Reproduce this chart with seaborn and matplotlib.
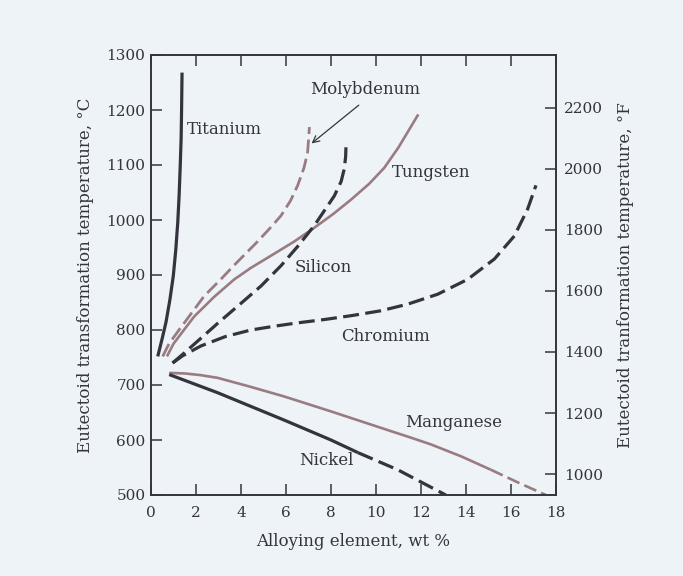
import matplotlib
matplotlib.use("Agg")
import matplotlib.pyplot as plt
import seaborn as sns
import pandas as pd

# ---------------- data ----------------
titanium_x = [0.30, 0.50, 0.67, 0.84, 0.99, 1.10, 1.19, 1.25, 1.30, 1.34, 1.36, 1.38]
titanium_y = [752, 785, 815, 855, 898, 945, 996, 1045, 1099, 1150, 1203, 1268]

molybdenum_x = [0.52, 0.80, 1.26, 1.48, 2.37, 3.10, 3.70, 4.74, 5.33, 5.78, 6.20,
                6.52, 6.80, 6.96, 7.00, 7.04]
molybdenum_y = [752, 775, 801, 813, 862, 892, 918, 961, 987, 1008, 1035,
                1063, 1095, 1123, 1145, 1169]

tungsten_x = [0.71, 1.00, 1.48, 1.93, 2.80, 3.70, 4.44, 5.33, 6.37, 7.26, 8.10,
              8.89, 9.70, 10.37, 11.00, 11.88]
tungsten_y = [752, 775, 801, 825, 860, 892, 913, 935, 961, 986, 1011,
              1037, 1066, 1095, 1132, 1192]

silicon_x = [0.96, 1.50, 2.52, 2.96, 3.90, 4.89, 5.78, 6.52, 7.26, 8.15, 8.45,
             8.59, 8.65, 8.67]
silicon_y = [740, 759, 796, 812, 845, 880, 917, 952, 990, 1044, 1070,
             1093, 1115, 1139]

chromium_x = [0.96, 1.40, 2.22, 3.30, 4.44, 5.50, 6.52, 7.70, 8.89, 10.22, 11.41,
              12.74, 14.07, 15.26, 16.15, 16.74, 17.11]
chromium_y = [740, 753, 771, 788, 800, 807, 813, 819, 826, 835, 847,
              865, 892, 929, 971, 1020, 1063]

manganese_solid_x = [0.81, 1.50, 2.20, 2.96, 4.40, 5.93, 8.00, 8.89, 10.60, 11.50,
                     12.44, 13.80, 15.10]
manganese_solid_y = [722, 721, 718, 713, 697, 679, 652, 640, 617, 605,
                     592, 570, 546]
manganese_dash_x = [15.10, 16.30, 17.55]
manganese_dash_y = [546, 523, 500]

nickel_solid_x = [0.81, 2.96, 5.93, 8.00, 9.20]
nickel_solid_y = [719, 686, 636, 600, 577]
nickel_dash_x = [9.20, 10.96, 13.10]
nickel_dash_y = [577, 546, 500]

x_ticks = [0, 2, 4, 6, 8, 10, 12, 14, 16, 18]
c_ticks = [500, 600, 700, 800, 900, 1000, 1100, 1200, 1300]
f_ticks = [1000, 1200, 1400, 1600, 1800, 2000, 2200]

labels = {
    "Titanium": (3.25, 1164),
    "Tungsten": (12.45, 1086),
    "Silicon": (7.65, 914),
    "Chromium": (10.4, 788),
    "Manganese": (13.45, 631),
    "Nickel": (7.8, 562),
    "Molybdenum": (9.5, 1237),
}

# ---------------- style ----------------
sns.set_theme(style="ticks")
plt.rcParams['font.family'] = ['DejaVu Serif', 'DejaVu Sans']

BG = '#edf3f6'
DARK = '#34343f'
MAUVE = '#9a7b82'

fig = plt.figure(figsize=(6.83, 5.76), dpi=100)
fig.patch.set_facecolor(BG)
ax = fig.add_axes([151 / 683, 1 - 495 / 576, 405 / 683, 440 / 576])
ax.set_facecolor(BG)

dash_dark = (0, (5, 2))
dash_mauve = (0, (5, 2))


def draw(xs, ys, color, lw, ls='-'):
    df = pd.DataFrame({"x": xs, "y": ys})
    sns.lineplot(data=df, x="x", y="y", ax=ax, color=color, linewidth=lw,
                 linestyle=ls, sort=False, estimator=None,
                 solid_capstyle='butt', dash_capstyle='butt',
                 solid_joinstyle='round')


draw(titanium_x, titanium_y, DARK, 2.3)
draw(molybdenum_x, molybdenum_y, MAUVE, 2.0, dash_mauve)
draw(tungsten_x, tungsten_y, MAUVE, 1.9)
draw(silicon_x, silicon_y, DARK, 2.3, dash_dark)
draw(chromium_x, chromium_y, DARK, 2.3, dash_dark)
draw(manganese_solid_x, manganese_solid_y, MAUVE, 1.9)
draw(manganese_dash_x, manganese_dash_y, MAUVE, 1.9, dash_mauve)
draw(nickel_solid_x, nickel_solid_y, DARK, 2.3)
draw(nickel_dash_x, nickel_dash_y, DARK, 2.3, dash_dark)

ax.set_xlim(0, 18)
ax.set_ylim(500, 1300)
ax.set_xticks(x_ticks)
ax.set_yticks(c_ticks)
ax.tick_params(axis='both', direction='in', length=8, width=1.1, colors=DARK,
               labelsize=11, top=True, right=False, labelcolor=DARK)
ax.tick_params(axis='x', pad=8)
ax.tick_params(axis='y', pad=4)
for s in ax.spines.values():
    s.set_visible(True)
    s.set_color(DARK)
    s.set_linewidth(1.2)

ax.set_xlabel("Alloying element, wt %", fontsize=12, color=DARK, labelpad=9)
ax.set_ylabel("Eutectoid transformation temperature, °C", fontsize=12,
              color=DARK, labelpad=9)

ax2 = ax.twinx()
ax2.set_ylim(500 * 9 / 5 + 32, 1300 * 9 / 5 + 32)
ax2.set_yticks(f_ticks)
ax2.tick_params(axis='y', direction='in', length=8, width=1.1, colors=DARK,
                labelsize=11, pad=6, labelcolor=DARK)
for s in ax2.spines.values():
    s.set_visible(True)
    s.set_color(DARK)
    s.set_linewidth(1.2)
ax2.set_ylabel("Eutectoid tranformation temperature, °F", fontsize=12,
               color=DARK, labelpad=10)

for name, (tx, ty) in labels.items():
    ax.text(tx, ty, name, fontsize=12, color=DARK, ha='center', va='center')

ax.annotate('', xy=(7.04, 1136), xytext=(9.33, 1212),
            arrowprops=dict(arrowstyle='->', lw=0.9, color=DARK,
                            mutation_scale=12))

fig.savefig("out.png", dpi=100, facecolor=BG)
